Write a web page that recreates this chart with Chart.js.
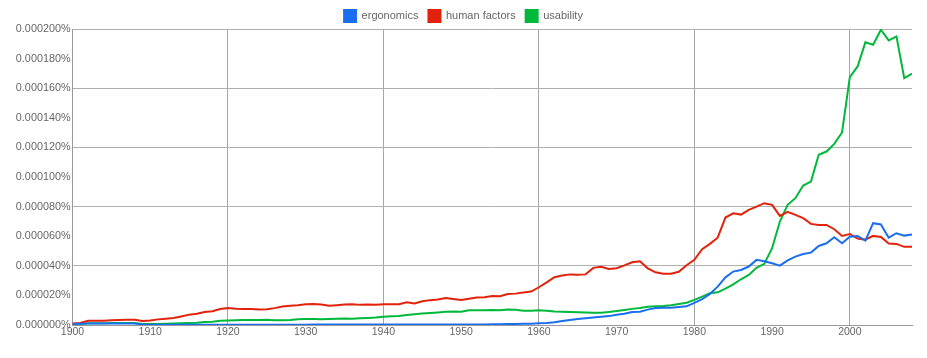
<!DOCTYPE html>
<html>
<head>
<meta charset="utf-8">
<script src="https://cdn.jsdelivr.net/npm/chart.js@4.4.1/dist/chart.umd.min.js"></script>
<style>
  html, body { margin: 0; padding: 0; background: #fff; }
  #wrap { width: 927px; height: 358px; position: relative; }
</style>
</head>
<body>
<div id="wrap"><canvas id="c" width="927" height="358"></canvas></div>
<script>
// Values are in millionths of a percent (200 => 0.000200%)
const SCALE = 1e-6;

const years = [
  1900,1901,1902,1903,1904,1905,1906,1907,1908,1909,
  1910,1911,1912,1913,1914,1915,1916,1917,1918,1919,
  1920,1921,1922,1923,1924,1925,1926,1927,1928,1929,
  1930,1931,1932,1933,1934,1935,1936,1937,1938,1939,
  1940,1941,1942,1943,1944,1945,1946,1947,1948,1949,
  1950,1951,1952,1953,1954,1955,1956,1957,1958,1959,
  1960,1961,1962,1963,1964,1965,1966,1967,1968,1969,
  1970,1971,1972,1973,1974,1975,1976,1977,1978,1979,
  1980,1981,1982,1983,1984,1985,1986,1987,1988,1989,
  1990,1991,1992,1993,1994,1995,1996,1997,1998,1999,
  2000,2001,2002,2003,2004,2005,2006,2007,2008
];

const ergonomics = [
  0.6,0.8,1.0,1.0,1.0,1.0,1.0,1.0,1.0,0.3,
  0.2,0.2,0.2,0.2,0.2,0.2,0.2,0.2,0.2,0.2,
  0.2,0.2,0.2,0.2,0.2,0.2,0.2,0.2,0.2,0.2,
  0.2,0.3,0.3,0.3,0.3,0.3,0.3,0.3,0.3,0.3,
  0.3,0.3,0.3,0.3,0.3,0.3,0.3,0.3,0.3,0.3,
  0.3,0.3,0.4,0.4,0.5,0.5,0.6,0.7,0.8,0.9,
  1.1,1.4,1.9,2.7,3.4,4.0,4.6,5.1,5.5,6.0,
  6.9,7.6,8.8,8.9,10.4,11.5,11.7,11.7,12.1,12.6,
  15.0,17.4,21.0,25.9,32.2,36.1,37.2,39.5,44.0,43.1,
  41.7,40.1,43.7,46.2,48.0,48.9,53.4,55.2,59.3,55.2,
  59.7,60.2,57.0,68.8,67.9,59.0,62.0,60.4,61.1
];

const humanFactors = [
  1.0,1.3,2.8,2.8,2.9,3.2,3.3,3.5,3.6,2.7,
  3.1,3.8,4.3,4.7,5.8,7.0,7.6,8.8,9.3,10.8,
  11.5,11.0,10.8,10.8,10.4,10.7,11.4,12.5,13.0,13.3,
  14.0,14.2,13.8,13.0,13.4,13.8,14.1,13.6,13.9,13.7,
  14.0,14.0,14.1,15.4,14.6,16.0,16.8,17.3,18.2,17.5,
  16.9,17.8,18.6,18.7,19.6,19.4,20.9,21.2,22.0,22.6,
  25.5,28.8,32.3,33.4,34.2,34.0,34.2,38.6,39.3,37.8,
  38.4,40.3,42.4,43.0,38.3,35.6,34.6,34.6,36.0,40.4,
  44.0,51.2,54.8,59.0,72.6,75.5,74.6,77.8,80.0,82.3,
  81.2,73.7,76.4,74.4,72.2,68.3,67.6,67.6,64.7,60.2,
  61.5,58.4,57.7,60.2,59.5,55.0,54.8,52.8,52.8
];

const usability = [
  0.5,0.6,1.2,1.2,1.2,1.3,1.3,1.3,1.3,0.6,
  0.6,0.7,0.8,1.0,1.2,1.4,1.6,2.0,2.2,2.8,
  3.1,3.2,3.3,3.3,3.3,3.6,3.2,3.2,3.3,3.9,
  4.1,4.0,3.9,4.0,4.2,4.4,4.3,4.5,4.8,5.0,
  5.5,5.9,6.1,6.7,7.2,7.7,8.1,8.5,9.0,9.2,
  9.0,9.9,9.9,10.0,10.1,10.0,10.4,10.3,9.6,9.7,
  9.9,9.7,9.2,9.0,8.8,8.6,8.4,8.3,8.3,8.8,
  9.4,10.1,10.9,11.5,12.3,12.6,12.8,13.3,14.2,15.0,
  17.0,19.2,21.4,22.1,24.6,27.5,30.9,33.8,38.6,41.3,
  51.9,69.9,81.2,85.7,94.2,96.9,115.0,117.2,122.4,130.1,
  167.5,174.7,191.0,189.4,199.5,192.3,195.0,166.8,169.8
];

const seriesNames = ['ergonomics', 'human factors', 'usability'];
const seriesColors = ['#1a6ef0', '#e3220b', '#00b83a'];
const seriesValues = [ergonomics, humanFactors, usability];

const FONT = "'Liberation Sans', Arial, Helvetica, sans-serif";
const TEXT = '#666';

const legendBox = {
  id: 'legendBox',
  beforeInit(chart) {
    const orig = chart.legend.fit;
    chart.legend.fit = function () {
      orig.call(this);
      this.height = 29;
    };
  },
  afterLayout(chart) {
    // centre the legend on the whole canvas
    chart.legend.left = 0;
    chart.legend.right = chart.width;
  }
};

new Chart(document.getElementById('c'), {
  type: 'line',
  data: {
    datasets: seriesNames.map((name, i) => ({
      label: name,
      data: years.map((yr, k) => ({ x: yr, y: seriesValues[i][k] })),
      borderColor: seriesColors[i],
      backgroundColor: seriesColors[i],
      borderWidth: 2,
      pointRadius: 0,
      tension: 0,
      fill: false
    }))
  },
  options: {
    responsive: false,
    animation: false,
    layout: { padding: { left: 0, right: 15, top: 0, bottom: 0 } },
    plugins: {
      legend: {
        position: 'top',
        align: 'center',
        labels: {
          boxWidth: 12,
          boxHeight: 12,
          padding: 10,
          color: TEXT,
          font: { family: FONT, size: 11 }
        }
      },
      tooltip: { enabled: false }
    },
    scales: {
      x: {
        type: 'linear',
        min: 1900,
        max: 2008,
        afterFit(scale) { scale.height = 33; },
        ticks: {
          stepSize: 10,
          padding: 1,
          maxRotation: 0,
          autoSkip: false,
          color: TEXT,
          font: { family: FONT, size: 10.5 },
          callback: v => (v % 10 === 0 ? String(v) : '')
        },
        grid: {
          drawTicks: false,
          color: ctx => (ctx.tick && ctx.tick.value % 20 === 0 && ctx.tick.value !== 1900 ? '#a6a6a6' : 'rgba(0,0,0,0)'),
          lineWidth: 1
        },
        border: { display: true, color: '#999', width: 1 }
      },
      y: {
        min: 0,
        max: 200,
        afterFit(scale) { scale.width = 72.5; },
        ticks: {
          stepSize: 20,
          padding: 2,
          color: TEXT,
          font: { family: FONT, size: 10.8 },
          callback: v => (v * SCALE).toFixed(6) + '%'
        },
        grid: {
          drawTicks: false,
          color: ctx => (ctx.tick && ctx.tick.value % 40 === 0 && ctx.tick.value !== 0 ? '#b0b0b0' : 'rgba(0,0,0,0)'),
          lineWidth: 1
        },
        border: { display: true, color: '#999', width: 1 }
      }
    }
  },
  plugins: [legendBox]
});
</script>
</body>
</html>
